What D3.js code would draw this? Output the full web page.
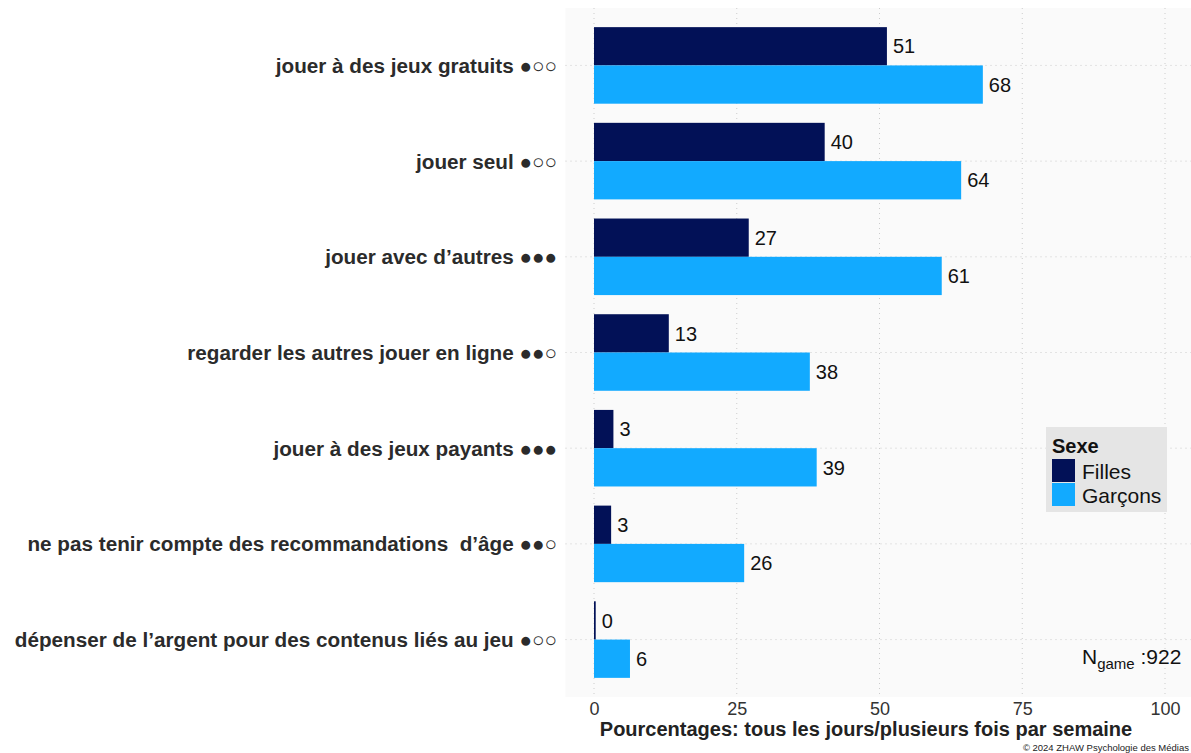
<!DOCTYPE html>
<html><head><meta charset="utf-8">
<script src="https://cdn.jsdelivr.net/npm/d3@7"></script>
<style>body{margin:0;background:#fff;} svg{display:block;font-family:"Liberation Sans",Arial,sans-serif;} .cat{white-space:pre;}</style>
</head><body>
<svg id="c" width="1191" height="753"></svg>
<script>
const categories = [
  "jouer à des jeux gratuits ●○○",
  "jouer seul ●○○",
  "jouer avec d’autres ●●●",
  "regarder les autres jouer en ligne ●●○",
  "jouer à des jeux payants ●●●",
  "ne pas tenir compte des recommandations  d’âge ●●○",
  "dépenser de l’argent pour des contenus liés au jeu ●○○"
];
const seriesNames = ["Filles", "Garçons"];
const filles  = [51.3, 40.4, 27.1, 13.1, 3.4, 3.0, 0.3];
const garcons = [68.1, 64.3, 60.9, 37.8, 39.0, 26.3, 6.3];
const xTicks = [0, 25, 50, 75, 100];
const colors = ["#021157", "#12AAFF"];

const svg = d3.select("#c");
const panel = {x0: 565.5, x1: 1191, y0: 8, y1: 697};

const x = d3.scaleLinear().domain([0, 100]).range([594, 1165]);
const y = d3.scaleBand().domain(categories).range([panel.y0, panel.y1]).paddingInner(0.2).paddingOuter(0.2);
const ySub = d3.scaleBand().domain(seriesNames).range([0, y.bandwidth()]);

svg.append("rect").attr("x", panel.x0).attr("y", panel.y0)
  .attr("width", panel.x1 - panel.x0).attr("height", panel.y1 - panel.y0).attr("fill", "#FAFAFA");

const grid = svg.append("g");
grid.selectAll("line.v").data(xTicks).join("line")
  .attr("x1", d => x(d)).attr("x2", d => x(d)).attr("y1", panel.y0).attr("y2", panel.y1)
  .attr("stroke", "#CCCCCC").attr("stroke-width", 1).attr("stroke-dasharray", "1,4");
grid.selectAll("line.h").data(categories).join("line")
  .attr("x1", panel.x0).attr("x2", panel.x1)
  .attr("y1", d => y(d) + y.bandwidth() / 2).attr("y2", d => y(d) + y.bandwidth() / 2)
  .attr("stroke", "#CCCCCC").attr("stroke-width", 1).attr("stroke-dasharray", "1,4");

const rows = categories.map((c, i) => [
  {cat: c, s: "Filles", v: filles[i], col: colors[0]},
  {cat: c, s: "Garçons", v: garcons[i], col: colors[1]}
]).flat();

svg.append("g").selectAll("rect").data(rows).join("rect")
  .attr("x", x(0)).attr("y", d => y(d.cat) + ySub(d.s))
  .attr("width", d => x(d.v) - x(0)).attr("height", ySub.bandwidth())
  .attr("fill", d => d.col);

svg.append("g").selectAll("text").data(rows).join("text")
  .attr("x", d => x(d.v) + 6).attr("y", d => y(d.cat) + ySub(d.s) + ySub.bandwidth() / 2)
  .attr("dy", "0.36em").attr("font-size", 20).attr("fill", "#111")
  .text(d => Math.round(d.v));

svg.append("g").selectAll("text").data(categories).join("text")
  .attr("class", "cat")
  .attr("x", 557).attr("y", d => y(d) + y.bandwidth() / 2)
  .attr("dy", "0.36em").attr("text-anchor", "end").attr("font-size", 20.7)
  .attr("font-weight", "bold").attr("fill", "#2b2b2b")
  .text(d => d);

const xAxis = d3.axisBottom(x).tickValues(xTicks).tickSize(0).tickPadding(0);
const ax = svg.append("g").attr("transform", `translate(0,${panel.y1 + 4})`).call(xAxis);
ax.select(".domain").remove();
ax.selectAll("text").attr("font-size", 18).attr("fill", "#333").attr("dy", "0.75em")
  .attr("font-family", "'Liberation Sans',Arial,sans-serif");

svg.append("text").attr("x", 866).attr("y", 736).attr("text-anchor", "middle")
  .attr("font-size", 20).attr("font-weight", "bold").attr("fill", "#222")
  .text("Pourcentages: tous les jours/plusieurs fois par semaine");

svg.append("text").attr("x", 1189).attr("y", 751).attr("text-anchor", "end")
  .attr("font-size", 9.5).attr("fill", "#222")
  .text("© 2024 ZHAW Psychologie des Médias");

const lg = svg.append("g").attr("transform", "translate(1046,427)");
lg.append("rect").attr("width", 121).attr("height", 85).attr("fill", "#E5E5E5");
lg.append("text").attr("x", 6).attr("y", 26).attr("font-size", 20).attr("font-weight", "bold")
  .attr("fill", "#111").text("Sexe");
seriesNames.forEach((s, i) => {
  lg.append("rect").attr("x", 6).attr("y", 32 + i * 24).attr("width", 23).attr("height", 23)
    .attr("fill", colors[i]);
  lg.append("text").attr("x", 36).attr("y", 44 + i * 24).attr("dy", "0.36em")
    .attr("font-size", 21).attr("fill", "#111").text(s);
});

const nt = svg.append("text").attr("x", 1082).attr("y", 664).attr("font-size", 21).attr("fill", "#111");
nt.append("tspan").text("N");
nt.append("tspan").attr("font-size", 15).attr("dy", 5).text("game");
nt.append("tspan").attr("dy", -5).text(" :922");
</script>
</body></html>
